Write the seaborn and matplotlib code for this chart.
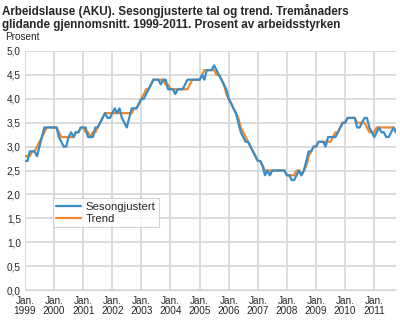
import matplotlib
matplotlib.use("Agg")
import matplotlib.pyplot as plt
import matplotlib.dates as mdates
import seaborn as sns
import pandas as pd

# Månadlege tal, jan. 1999 - okt. 2011 (prosent av arbeidsstyrken)
sesongjustert = [
    2.7, 2.7, 2.9, 2.9, 2.9, 2.8, 3.0, 3.2, 3.4, 3.4, 3.4, 3.4,  # 1999
    3.4, 3.4, 3.2, 3.1, 3.0, 3.0, 3.2, 3.3, 3.2, 3.3, 3.3, 3.4,  # 2000
    3.4, 3.4, 3.2, 3.2, 3.2, 3.4, 3.4, 3.5, 3.6, 3.7, 3.6, 3.6,  # 2001
    3.7, 3.8, 3.7, 3.8, 3.6, 3.5, 3.4, 3.6, 3.8, 3.8, 3.8, 3.9,  # 2002
    4.0, 4.0, 4.1, 4.2, 4.3, 4.4, 4.4, 4.4, 4.3, 4.4, 4.4, 4.2,  # 2003
    4.2, 4.2, 4.1, 4.2, 4.2, 4.2, 4.3, 4.4, 4.4, 4.4, 4.4, 4.4,  # 2004
    4.4, 4.5, 4.4, 4.6, 4.6, 4.6, 4.7, 4.6, 4.5, 4.4, 4.3, 4.2,  # 2005
    4.0, 3.9, 3.8, 3.7, 3.5, 3.3, 3.2, 3.1, 3.1, 3.0, 2.9, 2.8,  # 2006
    2.7, 2.7, 2.6, 2.4, 2.5, 2.4, 2.5, 2.5, 2.5, 2.5, 2.5, 2.5,  # 2007
    2.4, 2.4, 2.3, 2.3, 2.4, 2.5, 2.4, 2.5, 2.7, 2.9, 2.9, 3.0,  # 2008
    3.0, 3.1, 3.1, 3.1, 3.0, 3.2, 3.2, 3.2, 3.2, 3.3, 3.4, 3.5,  # 2009
    3.5, 3.6, 3.6, 3.6, 3.6, 3.4, 3.4, 3.5, 3.6, 3.6, 3.4, 3.3,  # 2010
    3.2, 3.3, 3.4, 3.3, 3.3, 3.2, 3.2, 3.3, 3.4, 3.3,            # 2011
]
trend = [
    2.8, 2.8, 2.8, 2.9, 2.9, 3.0, 3.1, 3.2, 3.3, 3.4, 3.4, 3.4,  # 1999
    3.4, 3.4, 3.3, 3.2, 3.2, 3.2, 3.2, 3.2, 3.2, 3.3, 3.3, 3.4,  # 2000
    3.4, 3.3, 3.3, 3.2, 3.3, 3.3, 3.4, 3.5, 3.6, 3.7, 3.7, 3.7,  # 2001
    3.7, 3.7, 3.7, 3.7, 3.7, 3.7, 3.7, 3.7, 3.7, 3.8, 3.8, 3.9,  # 2002
    4.0, 4.1, 4.2, 4.2, 4.3, 4.4, 4.4, 4.4, 4.4, 4.4, 4.3, 4.3,  # 2003
    4.2, 4.2, 4.2, 4.2, 4.2, 4.2, 4.2, 4.2, 4.3, 4.4, 4.4, 4.4,  # 2004
    4.4, 4.5, 4.6, 4.6, 4.6, 4.6, 4.6, 4.5, 4.5, 4.4, 4.3, 4.1,  # 2005
    4.0, 3.9, 3.8, 3.7, 3.6, 3.4, 3.3, 3.2, 3.1, 3.0, 2.9, 2.8,  # 2006
    2.7, 2.7, 2.6, 2.5, 2.5, 2.5, 2.5, 2.5, 2.5, 2.5, 2.5, 2.5,  # 2007
    2.4, 2.4, 2.4, 2.4, 2.5, 2.5, 2.4, 2.5, 2.6, 2.8, 2.9, 3.0,  # 2008
    3.0, 3.1, 3.1, 3.1, 3.1, 3.1, 3.1, 3.2, 3.3, 3.3, 3.4, 3.5,  # 2009
    3.5, 3.6, 3.6, 3.6, 3.6, 3.5, 3.5, 3.5, 3.5, 3.4, 3.3, 3.3,  # 2010
    3.3, 3.4, 3.4, 3.4, 3.4, 3.4, 3.4, 3.4, 3.4, 3.3,            # 2011
]
serienamn = ["Sesongjustert", "Trend"]
aar = list(range(1999, 2012))
y_ticks = [0.0, 0.5, 1.0, 1.5, 2.0, 2.5, 3.0, 3.5, 4.0, 4.5, 5.0]

BLA = "#3a8dc6"
ORANSJE = "#f4862a"
GRID = "#d6d6d6"

datoar = pd.date_range("1999-01-01", periods=len(sesongjustert), freq="MS")
df = pd.DataFrame({
    "dato": list(datoar) * 2,
    "verdi": trend + sesongjustert,
    "serie": ["Trend"] * len(trend) + ["Sesongjustert"] * len(sesongjustert),
})

sns.set_style("white")
plt.rcParams["font.family"] = ["Liberation Sans", "DejaVu Sans"]

fig = plt.figure(figsize=(4.0, 3.2), dpi=100)
ax = fig.add_axes([25 / 400, 30 / 320, 371 / 400, 239 / 320])

sns.lineplot(data=df, x="dato", y="verdi", hue="serie",
             hue_order=["Trend", "Sesongjustert"],
             palette={"Trend": ORANSJE, "Sesongjustert": BLA},
             linewidth=1.6, ax=ax, legend=False)

ax.set_xlim(datoar[0], datoar[-1])
ax.set_ylim(0, 5.0)

jan = [pd.Timestamp(f"{a}-01-01") for a in aar]
ax.set_xticks(jan)
ax.set_xticklabels([f"Jan.\n{a}" for a in aar], fontsize=7.2, linespacing=1.05)
ax.xaxis.set_minor_locator(mdates.MonthLocator())
ax.set_yticks(y_ticks)
ax.set_yticklabels([f"{v:.1f}".replace(".", ",") for v in y_ticks], fontsize=7.2)

ax.tick_params(axis="x", which="major", length=0, pad=4)
ax.tick_params(axis="x", which="minor", length=4, direction="in", color="#c8c8c8", width=0.6)
ax.tick_params(axis="y", length=0, pad=3)

ax.grid(True, which="major", color=GRID, linewidth=1.2)
for s in ["top", "right", "left"]:
    ax.spines[s].set_visible(False)
ax.spines["bottom"].set_color(GRID)
ax.set_xlabel("")
ax.set_ylabel("")

# legend: Sesongjustert først
h_bla, = ax.plot([], [], color=BLA, linewidth=1.6)
h_ora, = ax.plot([], [], color=ORANSJE, linewidth=1.6)
leg = ax.legend([h_bla, h_ora], serienamn, loc="lower left",
                bbox_to_anchor=(0.075, 0.262), fontsize=8.2, frameon=True,
                fancybox=False, handlelength=2.2, handletextpad=0.35,
                borderpad=0.3, labelspacing=0.2, borderaxespad=0.0)
leg.get_frame().set_edgecolor("#c8c8c8")
leg.get_frame().set_linewidth(0.8)

fig.text(2 / 400, 1 - 4 / 320,
         "Arbeidslause (AKU). Sesongjusterte tal og trend. Tremånaders\n"
         "glidande gjennomsnitt. 1999-2011. Prosent av arbeidsstyrken",
         ha="left", va="top", fontsize=8.4, fontweight="bold", linespacing=1.15)
fig.text(5 / 400, 1 - 37 / 320, "Prosent", ha="left", va="center", fontsize=7.2)

fig.savefig("out.png", dpi=100)
